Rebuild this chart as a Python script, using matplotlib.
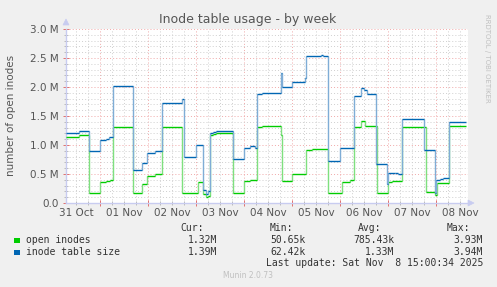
import matplotlib
matplotlib.use('Agg')
import matplotlib.pyplot as plt
from matplotlib.transforms import blended_transform_factory

# ---------------- data (hours since 01 Nov 00:00, values in millions) -------------
size_t = [-17, -10.5, -5.65, 0, 3, 4.5, 6.65, 16.65, 20.85, 23.65, 27.5, 31, 41.15, 42,
          48, 51.35, 53, 54, 55, 56.5, 58, 66.35, 72.15, 75, 77.5, 78.65, 81, 90.35,
          90.85, 96.15, 102.5, 103, 110.5, 111.25, 114.15, 120, 127, 130.35, 132,
          133.35, 138, 143.35, 144.15, 147.5, 149, 150.85, 162.15, 167.5, 168, 170,
          171.65, 174.65, 183]
size_v = [1.21, 1.24, 0.90, 1.09, 1.11, 1.13, 2.02, 0.57, 0.695, 0.87, 0.90, 1.72, 1.80, 0.80,
          1.00, 0.22, 0.15, 0.20, 1.20, 1.23, 1.25, 0.76, 0.95, 0.98, 0.95, 1.88, 1.89, 2.24,
          2.00, 2.09, 2.15, 2.53, 2.55, 2.53, 0.73, 0.94, 1.84, 1.98, 1.95,
          1.88, 0.68, 0.32, 0.51, 0.52, 0.50, 1.45, 0.91, 0.17, 0.40, 0.41,
          0.43, 1.40, 1.39]

open_t = [-17, -10.5, -5.65, 0, 3, 5, 6.65, 16.65, 20.85, 23.65, 27.5, 31, 41.15, 48.75,
          51.65, 53, 54, 55, 56.5, 58, 66.35, 72.15, 75, 78.65, 81, 90.35, 90.85, 96.15,
          103, 106, 114.15, 120.85, 125, 127, 130.35, 132.5, 138.5, 144.15, 146, 150.85,
          163, 167.5, 168.5, 174.65, 183]
open_v = [1.14, 1.17, 0.17, 0.36, 0.385, 0.39, 1.305, 0.17, 0.32, 0.47, 0.50, 1.305, 0.18, 0.37,
          0.15, 0.10, 0.12, 1.17, 1.19, 1.20, 0.18, 0.38, 0.40, 1.305, 1.33, 1.17, 0.38, 0.50,
          0.91, 0.93, 0.17, 0.37, 0.40, 1.305, 1.41, 1.33, 0.17, 0.37, 0.38, 1.305,
          0.195, 0.13, 0.34, 1.33, 1.32]

day_labels = ["31 Oct", "01 Nov", "02 Nov", "03 Nov", "04 Nov", "05 Nov", "06 Nov", "07 Nov", "08 Nov"]
y_ticks = [0.0, 0.5, 1.0, 1.5, 2.0, 2.5, 3.0]
y_labels = ["0.0", "0.5 M", "1.0 M", "1.5 M", "2.0 M", "2.5 M", "3.0 M"]

series_names = ["open inodes", "inode table size"]
series_colors = ["#00CC00", "#0066B3"]
series_light = ["#7FE07F", "#7FADD6"]
stat_cur = ["1.32M", "1.39M"]
stat_min = ["50.65k", "62.42k"]
stat_avg = ["785.43k", "1.33M"]
stat_max = ["3.93M", "3.94M"]

# ---------------- figure ----------------
W, H = 497, 287
fig = plt.figure(figsize=(W / 100, H / 100), dpi=100, facecolor='#F0F0F0')


def fy(py):
    return 1 - py / H


ax = fig.add_axes([66 / W, 1 - 203 / H, 402 / W, 174 / H])
ax.set_facecolor('white')
ax.set_xlim(-17, 184)
ax.set_ylim(0, 3.0e6)

minor_c = '#CFCFCF'
major_c = '#F0A8A8'
dots = (0, (1, 2.2))
for h in range(-12, 184, 6):
    if h % 24 != 0:
        ax.axvline(h, color=minor_c, lw=0.7, ls=dots, zorder=1)
for h in range(0, 184, 24):
    ax.axvline(h, color=major_c, lw=0.7, ls=dots, zorder=1)
for i in range(1, 31):
    v = i * 0.1e6
    if i % 5 != 0:
        ax.axhline(v, color=minor_c, lw=0.7, ls=dots, zorder=1)
for v in y_ticks[1:]:
    ax.axhline(v * 1e6, color=major_c, lw=0.7, ls=dots, zorder=1)


def draw_series(ts, vs, color, light, z):
    ys = [v * 1e6 for v in vs]
    # vertical transitions, lighter
    ax.vlines(ts[1:-1], ys[:-2], ys[1:-1], color=light, lw=1.0, zorder=z)
    # horizontal levels
    ax.hlines(ys[:-1], ts[:-1], ts[1:], color=color, lw=1.0, zorder=z + 0.5)


draw_series(open_t, open_v, series_colors[0], series_light[0], 3)
draw_series(size_t, size_v, series_colors[1], series_light[1], 4)

# axes styling
axis_c = '#C8CCF0'
for s in ['top', 'right']:
    ax.spines[s].set_visible(False)
for s in ['left', 'bottom']:
    ax.spines[s].set_color(axis_c)
    ax.spines[s].set_linewidth(1.0)
ax.set_yticks([v * 1e6 for v in y_ticks])
ax.set_yticklabels(y_labels)
ax.set_yticks([i * 0.1e6 for i in range(31)], minor=True)
ax.set_xticks(list(range(0, 184, 24)))
ax.set_xticklabels([])
ax.set_xticks(list(range(-12, 184, 6)), minor=True)
ax.tick_params(axis='both', which='major', direction='inout', length=4, width=0.7,
               color='#E07070', labelsize=7.5, labelcolor='#555555')
ax.tick_params(axis='both', which='minor', direction='inout', length=3, width=0.6,
               color='#B0B0B0')
ax.tick_params(axis='y', pad=3)

trans = blended_transform_factory(ax.transData, fig.transFigure)
for i, lab in enumerate(day_labels):
    ax.text(-12 + 24 * i, fy(213), lab, transform=trans, ha='center', va='center',
            fontsize=7.5, color='#555555')

# arrows
fig.patches.append(matplotlib.patches.Polygon(
    [[63 / W, fy(25)], [69 / W, fy(25)], [66 / W, fy(19)]], closed=True,
    transform=fig.transFigure, facecolor=axis_c, edgecolor=axis_c, lw=0.5))
fig.patches.append(matplotlib.patches.Polygon(
    [[468 / W, fy(200)], [468 / W, fy(206)], [474 / W, fy(203)]], closed=True,
    transform=fig.transFigure, facecolor=axis_c, edgecolor=axis_c, lw=0.5))

# title and labels
fig.text(248 / W, fy(19), "Inode table usage - by week", ha='center', va='center',
         fontsize=9, color='#555555')
fig.text(11 / W, fy(115), "number of open inodes", ha='center', va='center',
         rotation=90, fontsize=7.5, color='#555555')
fig.text(487 / W, fy(14), "RRDTOOL / TOBI OETIKER", ha='center', va='top',
         rotation=270, fontsize=5, color='#C0C0C0')

# legend
mono = 'DejaVu Sans Mono'
tc = '#333333'
fs = 7
for x, lab in [(204, "Cur:"), (293, "Min:"), (381, "Avg:"), (470, "Max:")]:
    fig.text(x / W, fy(228), lab, ha='right', va='center', family=mono, fontsize=fs, color=tc)
rows_y = [240, 252]
for i in range(2):
    y = rows_y[i]
    fig.patches.append(matplotlib.patches.Rectangle(
        (14 / W, fy(y + 3)), 5.5 / W, 5.5 / H, transform=fig.transFigure,
        facecolor=series_colors[i], edgecolor='none'))
    fig.text(26 / W, fy(y), series_names[i], ha='left', va='center', family=mono,
             fontsize=fs, color=tc)
    for x, val in [(217, stat_cur[i]), (306, stat_min[i]), (394, stat_avg[i]), (483, stat_max[i])]:
        fig.text(x / W, fy(y), val, ha='right', va='center', family=mono, fontsize=fs, color=tc)
fig.text(483 / W, fy(263), "Last update: Sat Nov  8 15:00:34 2025", ha='right', va='center',
         family=mono, fontsize=fs, color=tc)
fig.text(248 / W, fy(276), "Munin 2.0.73", ha='center', va='center', fontsize=5.5,
         color='#C0C0C0')

fig.savefig('out.png', dpi=100, facecolor=fig.get_facecolor())
